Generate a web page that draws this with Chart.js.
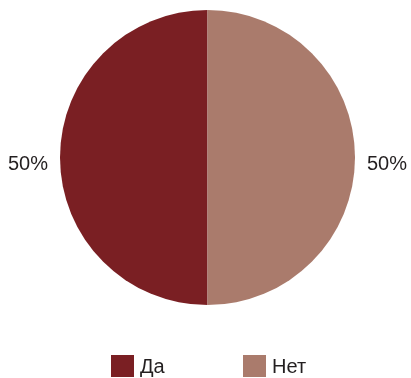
<!DOCTYPE html>
<html>
<head>
<meta charset="utf-8">
<script src="https://cdn.jsdelivr.net/npm/chart.js@4/dist/chart.umd.min.js"></script>
<style>
	html, body { margin: 0; padding: 0; background: #fff; }
	#wrap { width: 411px; height: 378px; position: relative; }
</style>
</head>
<body>
<div id="wrap"><canvas id="pie-chart"></canvas></div>
<script>
const labels = ["Да", "Нет"];
const shares = [50, 50];
const colors = ["#7a1f23", "#aa7b6c"];

const FONT = "'Liberation Sans', Arial, sans-serif";
const TEXT_COLOR = "#231f20";

// percentages drawn outside each slice
const outsideLabels = {
	id: "outsideLabels",
	afterDatasetsDraw(chart) {
		const ctx = chart.ctx;
		const meta = chart.getDatasetMeta(0);
		ctx.save();
		ctx.font = "20px " + FONT;
		ctx.fillStyle = TEXT_COLOR;
		ctx.textAlign = "center";
		ctx.textBaseline = "middle";
		meta.data.forEach((arc, i) => {
			const { x, y, startAngle, endAngle, outerRadius } = arc.getProps(
				["x", "y", "startAngle", "endAngle", "outerRadius"],
				true
			);
			const mid = (startAngle + endAngle) / 2;
			const r = outerRadius + 32;
			ctx.fillText(
				`${shares[i]}%`,
				x + Math.cos(mid) * r,
				y + Math.sin(mid) * r + 7
			);
		});
		ctx.restore();
	},
};

// legend row under the pie
const bottomLegend = {
	id: "bottomLegend",
	afterDraw(chart) {
		const ctx = chart.ctx;
		const itemX = [111, 243];
		const top = 355;
		const box = 22;
		ctx.save();
		ctx.font = "20px " + FONT;
		ctx.textBaseline = "middle";
		labels.forEach((label, i) => {
			ctx.fillStyle = colors[i];
			ctx.fillRect(itemX[i], top, box + 1, box);
			ctx.fillStyle = TEXT_COLOR;
			ctx.fillText(label, itemX[i] + box + 7, top + box / 2 + 1);
		});
		ctx.restore();
	},
};

new Chart(document.getElementById("pie-chart"), {
	type: "pie",
	data: {
		labels: labels,
		datasets: [
			{
				data: shares,
				backgroundColor: colors,
				borderWidth: 0,
			},
		],
	},
	options: {
		responsive: true,
		maintainAspectRatio: false,
		animation: false,
		rotation: 180,
		layout: {
			padding: { top: 10, bottom: 73, left: 60, right: 56 },
		},
		plugins: {
			legend: { display: false },
			tooltip: { enabled: false },
		},
	},
	plugins: [outsideLabels, bottomLegend],
});
</script>
</body>
</html>
